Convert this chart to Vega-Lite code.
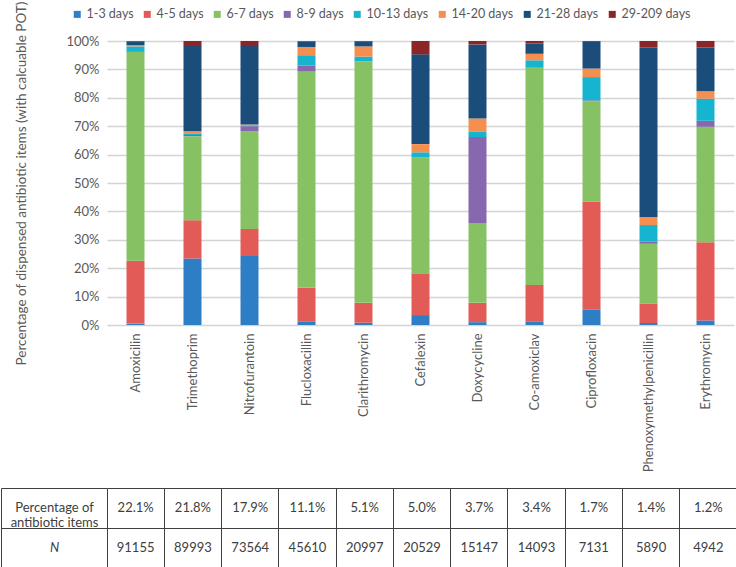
{
  "$schema": "https://vega.github.io/schema/vega-lite/v6.json",
  "description": "Stacked bars of prescription duration by antibiotic, with a table of shares and counts underneath.",
  "padding": {"left": 0, "top": 0, "right": 0, "bottom": 0},
  "background": "white",
  "spacing": 15,
  "config": {
    "view": {"stroke": null},
    "font": "Lato",
    "axis": {"labelColor": "#595959", "titleColor": "#595959", "labelFont": "Lato", "titleFont": "Lato"},
    "text": {"font": "Lato"}
  },
  "datasets": {
    "durations": [
      {"days": "1-3 days", "rank": 1},
      {"days": "4-5 days", "rank": 2},
      {"days": "6-7 days", "rank": 3},
      {"days": "8-9 days", "rank": 4},
      {"days": "10-13 days", "rank": 5},
      {"days": "14-20 days", "rank": 6},
      {"days": "21-28 days", "rank": 7},
      {"days": "29-209 days", "rank": 8}
    ],
    "duration": [
      {"drug": "Amoxicilin", "days": "1-3 days", "pct": 0.5},
      {"drug": "Amoxicilin", "days": "4-5 days", "pct": 22.1},
      {"drug": "Amoxicilin", "days": "6-7 days", "pct": 73.5},
      {"drug": "Amoxicilin", "days": "8-9 days", "pct": 0.3},
      {"drug": "Amoxicilin", "days": "10-13 days", "pct": 1.7},
      {"drug": "Amoxicilin", "days": "14-20 days", "pct": 0.4},
      {"drug": "Amoxicilin", "days": "21-28 days", "pct": 1.3},
      {"drug": "Amoxicilin", "days": "29-209 days", "pct": 0.2},
      {"drug": "Trimethoprim", "days": "1-3 days", "pct": 23.4},
      {"drug": "Trimethoprim", "days": "4-5 days", "pct": 13.5},
      {"drug": "Trimethoprim", "days": "6-7 days", "pct": 29.6},
      {"drug": "Trimethoprim", "days": "8-9 days", "pct": 0.4},
      {"drug": "Trimethoprim", "days": "10-13 days", "pct": 0.6},
      {"drug": "Trimethoprim", "days": "14-20 days", "pct": 0.7},
      {"drug": "Trimethoprim", "days": "21-28 days", "pct": 30.0},
      {"drug": "Trimethoprim", "days": "29-209 days", "pct": 1.8},
      {"drug": "Nitrofurantoin", "days": "1-3 days", "pct": 24.3},
      {"drug": "Nitrofurantoin", "days": "4-5 days", "pct": 9.5},
      {"drug": "Nitrofurantoin", "days": "6-7 days", "pct": 34.4},
      {"drug": "Nitrofurantoin", "days": "8-9 days", "pct": 1.8},
      {"drug": "Nitrofurantoin", "days": "10-13 days", "pct": 0.3},
      {"drug": "Nitrofurantoin", "days": "14-20 days", "pct": 0.3},
      {"drug": "Nitrofurantoin", "days": "21-28 days", "pct": 27.6},
      {"drug": "Nitrofurantoin", "days": "29-209 days", "pct": 1.8},
      {"drug": "Flucloxacillin", "days": "1-3 days", "pct": 1.3},
      {"drug": "Flucloxacillin", "days": "4-5 days", "pct": 11.8},
      {"drug": "Flucloxacillin", "days": "6-7 days", "pct": 76.3},
      {"drug": "Flucloxacillin", "days": "8-9 days", "pct": 2.0},
      {"drug": "Flucloxacillin", "days": "10-13 days", "pct": 3.6},
      {"drug": "Flucloxacillin", "days": "14-20 days", "pct": 2.9},
      {"drug": "Flucloxacillin", "days": "21-28 days", "pct": 1.9},
      {"drug": "Flucloxacillin", "days": "29-209 days", "pct": 0.2},
      {"drug": "Clarithromycin", "days": "1-3 days", "pct": 0.8},
      {"drug": "Clarithromycin", "days": "4-5 days", "pct": 7.0},
      {"drug": "Clarithromycin", "days": "6-7 days", "pct": 85.0},
      {"drug": "Clarithromycin", "days": "8-9 days", "pct": 0.1},
      {"drug": "Clarithromycin", "days": "10-13 days", "pct": 1.6},
      {"drug": "Clarithromycin", "days": "14-20 days", "pct": 3.6},
      {"drug": "Clarithromycin", "days": "21-28 days", "pct": 1.8},
      {"drug": "Clarithromycin", "days": "29-209 days", "pct": 0.1},
      {"drug": "Cefalexin", "days": "1-3 days", "pct": 3.5},
      {"drug": "Cefalexin", "days": "4-5 days", "pct": 14.7},
      {"drug": "Cefalexin", "days": "6-7 days", "pct": 40.7},
      {"drug": "Cefalexin", "days": "8-9 days", "pct": 0.1},
      {"drug": "Cefalexin", "days": "10-13 days", "pct": 1.8},
      {"drug": "Cefalexin", "days": "14-20 days", "pct": 2.9},
      {"drug": "Cefalexin", "days": "21-28 days", "pct": 31.6},
      {"drug": "Cefalexin", "days": "29-209 days", "pct": 4.7},
      {"drug": "Doxycycline", "days": "1-3 days", "pct": 1.0},
      {"drug": "Doxycycline", "days": "4-5 days", "pct": 6.8},
      {"drug": "Doxycycline", "days": "6-7 days", "pct": 28.1},
      {"drug": "Doxycycline", "days": "8-9 days", "pct": 30.3},
      {"drug": "Doxycycline", "days": "10-13 days", "pct": 1.8},
      {"drug": "Doxycycline", "days": "14-20 days", "pct": 4.7},
      {"drug": "Doxycycline", "days": "21-28 days", "pct": 26.1},
      {"drug": "Doxycycline", "days": "29-209 days", "pct": 1.2},
      {"drug": "Co-amoxiclav", "days": "1-3 days", "pct": 1.3},
      {"drug": "Co-amoxiclav", "days": "4-5 days", "pct": 12.8},
      {"drug": "Co-amoxiclav", "days": "6-7 days", "pct": 76.4},
      {"drug": "Co-amoxiclav", "days": "8-9 days", "pct": 0.1},
      {"drug": "Co-amoxiclav", "days": "10-13 days", "pct": 2.6},
      {"drug": "Co-amoxiclav", "days": "14-20 days", "pct": 2.3},
      {"drug": "Co-amoxiclav", "days": "21-28 days", "pct": 3.6},
      {"drug": "Co-amoxiclav", "days": "29-209 days", "pct": 0.9},
      {"drug": "Ciprofloxacin", "days": "1-3 days", "pct": 5.4},
      {"drug": "Ciprofloxacin", "days": "4-5 days", "pct": 38.0},
      {"drug": "Ciprofloxacin", "days": "6-7 days", "pct": 35.4},
      {"drug": "Ciprofloxacin", "days": "8-9 days", "pct": 0.3},
      {"drug": "Ciprofloxacin", "days": "10-13 days", "pct": 8.2},
      {"drug": "Ciprofloxacin", "days": "14-20 days", "pct": 3.0},
      {"drug": "Ciprofloxacin", "days": "21-28 days", "pct": 9.4},
      {"drug": "Ciprofloxacin", "days": "29-209 days", "pct": 0.3},
      {"drug": "Phenoxymethylpenicillin", "days": "1-3 days", "pct": 0.7},
      {"drug": "Phenoxymethylpenicillin", "days": "4-5 days", "pct": 6.9},
      {"drug": "Phenoxymethylpenicillin", "days": "6-7 days", "pct": 21.0},
      {"drug": "Phenoxymethylpenicillin", "days": "8-9 days", "pct": 0.7},
      {"drug": "Phenoxymethylpenicillin", "days": "10-13 days", "pct": 5.9},
      {"drug": "Phenoxymethylpenicillin", "days": "14-20 days", "pct": 2.7},
      {"drug": "Phenoxymethylpenicillin", "days": "21-28 days", "pct": 59.8},
      {"drug": "Phenoxymethylpenicillin", "days": "29-209 days", "pct": 2.3},
      {"drug": "Erythromycin", "days": "1-3 days", "pct": 1.6},
      {"drug": "Erythromycin", "days": "4-5 days", "pct": 27.5},
      {"drug": "Erythromycin", "days": "6-7 days", "pct": 40.7},
      {"drug": "Erythromycin", "days": "8-9 days", "pct": 2.1},
      {"drug": "Erythromycin", "days": "10-13 days", "pct": 7.8},
      {"drug": "Erythromycin", "days": "14-20 days", "pct": 2.6},
      {"drug": "Erythromycin", "days": "21-28 days", "pct": 15.4},
      {"drug": "Erythromycin", "days": "29-209 days", "pct": 2.3}
    ],
    "table": [
      {"drug": "Amoxicilin", "share": 0.221, "n": 91155},
      {"drug": "Trimethoprim", "share": 0.218, "n": 89993},
      {"drug": "Nitrofurantoin", "share": 0.179, "n": 73564},
      {"drug": "Flucloxacillin", "share": 0.111, "n": 45610},
      {"drug": "Clarithromycin", "share": 0.051, "n": 20997},
      {"drug": "Cefalexin", "share": 0.050, "n": 20529},
      {"drug": "Doxycycline", "share": 0.037, "n": 15147},
      {"drug": "Co-amoxiclav", "share": 0.034, "n": 14093},
      {"drug": "Ciprofloxacin", "share": 0.017, "n": 7131},
      {"drug": "Phenoxymethylpenicillin", "share": 0.014, "n": 5890},
      {"drug": "Erythromycin", "share": 0.012, "n": 4942}
    ]
  },
  "vconcat": [
    {
      "width": 627,
      "height": 284,
      "data": {"name": "duration"},
      "transform": [
        {"lookup": "days", "from": {"data": {"name": "durations"}, "key": "days", "fields": ["rank"]}}
      ],
      "mark": {"type": "bar", "width": 18},
      "encoding": {
        "x": {
          "field": "drug",
          "type": "nominal",
          "sort": null,
          "scale": {
            "domain": ["Amoxicilin", "Trimethoprim", "Nitrofurantoin", "Flucloxacillin", "Clarithromycin", "Cefalexin", "Doxycycline", "Co-amoxiclav", "Ciprofloxacin", "Phenoxymethylpenicillin", "Erythromycin"],
            "paddingInner": 0,
            "paddingOuter": 0
          },
          "axis": {
            "title": null,
            "labelAngle": -90,
            "labelFontSize": 13,
            "labelPadding": 8,
            "ticks": false,
            "domain": false
          }
        },
        "y": {
          "field": "pct",
          "type": "quantitative",
          "stack": "zero",
          "scale": {"domain": [0, 100]},
          "axis": {
            "title": "Percentage of dispensed antibiotic items (with calcuable POT)",
            "titleFontSize": 13.5,
            "titleFontWeight": "normal",
            "titleX": -86,
            "titleBaseline": "middle",
            "values": [0, 10, 20, 30, 40, 50, 60, 70, 80, 90, 100],
            "labelExpr": "datum.value + '%'",
            "labelFontSize": 13,
            "labelPadding": 8,
            "ticks": false,
            "domain": false,
            "gridColor": "#d4d4d4",
            "gridWidth": 1.5
          }
        },
        "order": {"field": "rank", "type": "quantitative"},
        "color": {
          "field": "days",
          "type": "nominal",
          "sort": ["1-3 days", "4-5 days", "6-7 days", "8-9 days", "10-13 days", "14-20 days", "21-28 days", "29-209 days"],
          "scale": {
            "domain": ["1-3 days", "4-5 days", "6-7 days", "8-9 days", "10-13 days", "14-20 days", "21-28 days", "29-209 days"],
            "range": ["#2e7ec5", "#e35b57", "#86c264", "#8767ad", "#17b4d0", "#f48f4f", "#1b4d7a", "#8b2527"]
          },
          "legend": {
            "title": null,
            "orient": "none",
            "legendX": -36,
            "legendY": -33,
            "direction": "horizontal",
            "columns": 8,
            "columnPadding": 7,
            "symbolType": "square",
            "symbolSize": 49,
            "symbolStrokeWidth": 0,
            "labelOffset": 3,
            "labelFontSize": 12.5,
            "labelColor": "#595959",
            "labelFont": "Lato"
          }
        }
      }
    },
    {
      "width": 630,
      "height": 80,
      "data": {"name": "table"},
      "encoding": {
        "x": {
          "field": "drug",
          "type": "nominal",
          "sort": null,
          "scale": {
            "type": "band",
            "domain": ["Amoxicilin", "Trimethoprim", "Nitrofurantoin", "Flucloxacillin", "Clarithromycin", "Cefalexin", "Doxycycline", "Co-amoxiclav", "Ciprofloxacin", "Phenoxymethylpenicillin", "Erythromycin"],
            "paddingInner": 0,
            "paddingOuter": 0
          },
          "axis": {
            "title": null,
            "labels": false,
            "ticks": false,
            "domain": false,
            "grid": true,
            "bandPosition": 0,
            "gridColor": "#404040",
            "gridWidth": 1
          }
        }
      },
      "layer": [
        {
          "mark": {"type": "text", "fontSize": 13, "color": "#404040"},
          "encoding": {
            "y": {
              "datum": "Percentage of antibiotic items",
              "type": "nominal",
              "scale": {"type": "band", "domain": ["Percentage of antibiotic items", "N"], "paddingInner": 0, "paddingOuter": 0},
              "axis": {
                "title": null,
                "offset": 106,
                "domain": true,
                "domainColor": "#404040",
                "ticks": true,
                "tickSize": -106,
                "tickColor": "#404040",
                "grid": true,
                "gridColor": "#404040",
                "gridWidth": 1,
                "bandPosition": 0,
                "labelAlign": "center",
                "labelPadding": 53,
                "labelFontSize": 13,
                "labelColor": "#404040",
                "labelLineHeight": 15,
                "labelExpr": "datum.value == 'N' ? 'N' : ['Percentage of', 'antibiotic items']",
                "labelFontStyle": {"condition": {"test": "datum.value == 'N'", "value": "italic"}, "value": "normal"}
              }
            },
            "text": {"field": "share", "type": "quantitative", "format": ".1%"}
          }
        },
        {
          "mark": {"type": "text", "fontSize": 13, "color": "#404040"},
          "encoding": {
            "y": {"datum": "N", "type": "nominal"},
            "text": {"field": "n", "type": "quantitative", "format": "d"}
          }
        }
      ]
    }
  ],
  "resolve": {"scale": {"x": "independent", "y": "independent", "color": "independent"}}
}
